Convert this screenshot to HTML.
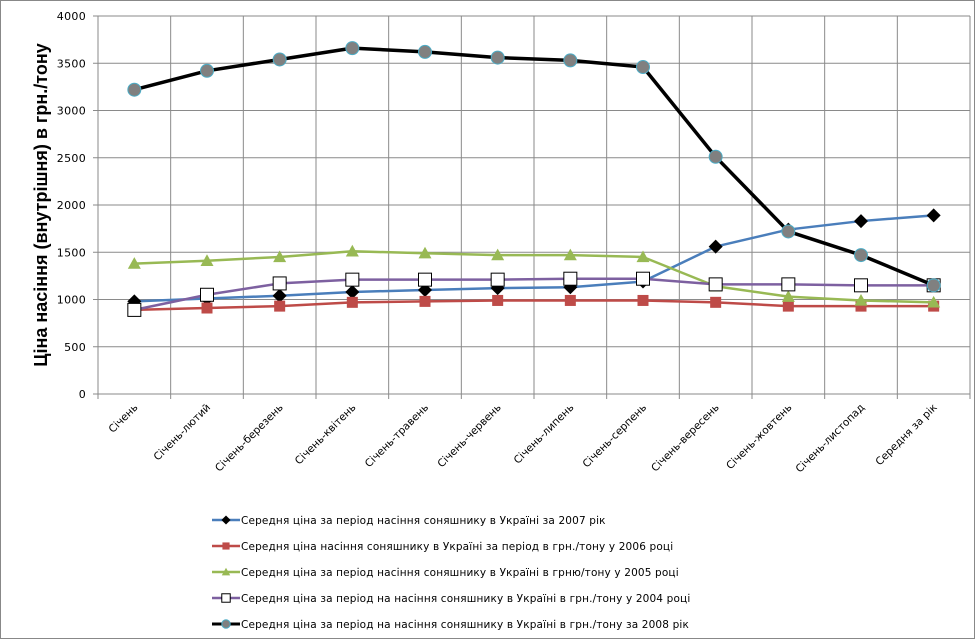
<!DOCTYPE html><html><head><meta charset="utf-8"><style>body{margin:0;background:#fff}svg{display:block;font-family:"DejaVu Sans","Liberation Sans",sans-serif}</style></head><body>
<svg id="s" width="976" height="640" xmlns="http://www.w3.org/2000/svg">
<rect x="0.5" y="0.5" width="974" height="638" fill="#fff" stroke="#888"/>
<text transform="translate(47,205) rotate(-90)" text-anchor="middle" font-size="18" font-weight="bold" fill="#000" font-family="Liberation Sans, sans-serif">Ціна насіння  (внутрішня)  в грн./тону</text>
</svg>
<script>
const s=document.getElementById('s'),NS='http://www.w3.org/2000/svg';
function el(t,a,txt){const e=document.createElementNS(NS,t);for(const k in a)e.setAttribute(k,a[k]);if(txt!==undefined)e.textContent=txt;s.appendChild(e);return e;}
const L=98,R=970,T=16,B=394,W=(R-L)/12;
const Y=v=>B-v*(B-T)/4000, X=i=>L+W/2+i*W;
for(let v=0;v<=4000;v+=500){el('line',{x1:93,x2:R,y1:Y(v),y2:Y(v),stroke:'#8a8a8a'});el('text',{x:86,y:Y(v)+4,'text-anchor':'end','font-size':11,fill:'#000','letter-spacing':0.3},String(v));}
for(let i=0;i<=12;i++){const x=L+i*W;el('line',{x1:x,x2:x,y1:T,y2:B+5,stroke:'#8a8a8a'});}
const cats=['Січень','Січень-лютий','Січень-березень','Січень-квітень','Січень-травень','Січень-червень','Січень-липень','Січень-серпень','Січень-вересень','Січень-жовтень','Січень-листопад','Середня за рік'];
cats.forEach((c,i)=>el('text',{transform:`translate(${X(i)+4},${B+14}) rotate(-45)`,'text-anchor':'end','font-size':10.5,fill:'#000'},c));
const series=[
{c:'#4a7ebb',m:'dia',d:[980,1010,1040,1080,1100,1120,1130,1190,1560,1740,1830,1890],n:'Середня ціна за період насіння соняшнику в Україні за 2007 рік'},
{c:'#be4b48',m:'sq',d:[890,910,930,970,980,990,990,990,970,930,930,930],n:'Середня ціна насіння соняшнику в Україні за період в грн./тону у 2006 році'},
{c:'#98b954',m:'tri',d:[1380,1410,1450,1510,1490,1470,1470,1450,1140,1030,990,970],n:'Середня ціна за період насіння соняшнику в Україні в грню/тону у 2005 році'},
{c:'#7d60a0',m:'wsq',d:[890,1050,1170,1210,1210,1210,1220,1220,1160,1160,1150,1150],n:'Середня ціна за період на насіння соняшнику в Україні в грн./тону у 2004 році'},
{c:'#000',m:'circ',d:[3220,3420,3540,3660,3620,3560,3530,3460,2510,1720,1470,1150],n:'Середня ціна за період на насіння соняшнику в Україні в грн./тону за 2008 рік'}];
function mk(m,x,y,c,sc){sc=sc||1;
 if(m=='dia'){const r=7*sc;el('polygon',{points:`${x},${y-r} ${x+r},${y} ${x},${y+r} ${x-r},${y}`,fill:'#000'});}
 if(m=='sq'){const r=5.5*sc;el('rect',{x:x-r,y:y-r,width:2*r,height:2*r,fill:c});}
 if(m=='tri'){const r=6.5*sc;el('polygon',{points:`${x},${y-r} ${x+r},${y+r*0.8} ${x-r},${y+r*0.8}`,fill:c});}
 if(m=='wsq'){const r=6.5*sc;el('rect',{x:x-r,y:y-r,width:2*r,height:2*r,fill:'#fff',stroke:'#000','stroke-width':1});}
 if(m=='circ'){const r=6.5*sc;el('circle',{cx:x,cy:y,r:r,fill:'#808080',stroke:'#4bacc6','stroke-width':1});}
}
series.forEach(S=>{
 el('polyline',{points:S.d.map((v,i)=>X(i)+','+Y(v)).join(' '),fill:'none',stroke:S.c,'stroke-width':S.m=='circ'?3.5:2.5,'stroke-linejoin':'round'});
 S.d.forEach((v,i)=>mk(S.m,X(i),Y(v),S.c));
});
series.forEach((S,k)=>{const y=520+k*26;
 el('line',{x1:212,x2:240,y1:y,y2:y,stroke:S.c,'stroke-width':S.m=='circ'?3:2.5});
 mk(S.m,226,y,S.c,0.65);
 el('text',{x:241,y:y+4,'font-size':10.5,fill:'#000','letter-spacing':0.15},S.n);
});
</script>
</body></html>
